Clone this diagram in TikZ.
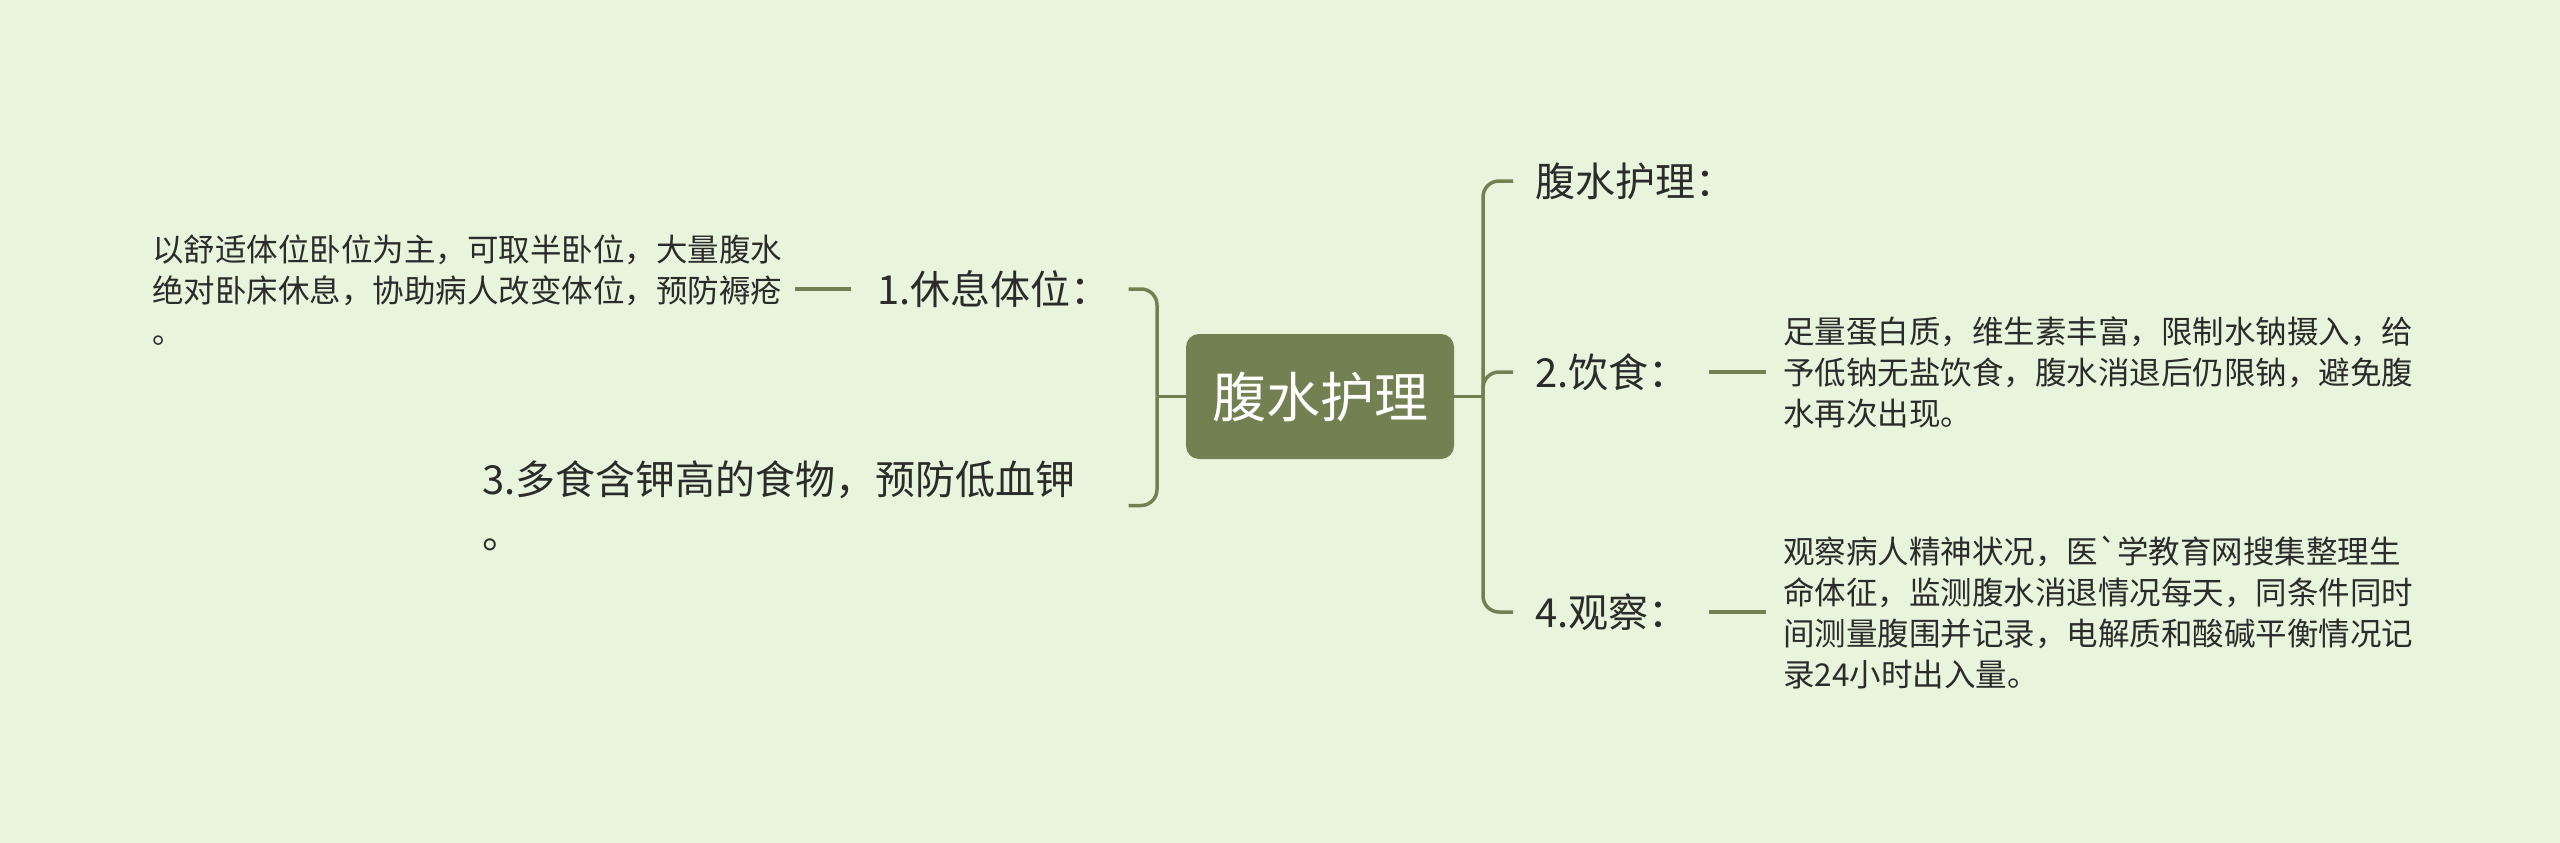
\documentclass[tikz,border=0pt]{standalone}
\usepackage{fontspec}
\newfontfamily\cjk{Noto Sans CJK SC}
\definecolor{bg}{HTML}{E8F5DC}
\definecolor{olive}{HTML}{738152}
\definecolor{txt}{HTML}{2B2B2B}
\begin{document}
\begin{tikzpicture}[x=1pt,y=-1pt,
  conn/.style={draw=olive, line width=3.5pt, rounded corners=16pt},
  lvlone/.style={anchor=west, inner sep=0pt, text=txt, font=\cjk\fontsize{40}{54}\selectfont, align=left},
  detail/.style={anchor=west, inner sep=0pt, text=txt, font=\cjk\fontsize{31.5}{41}\selectfont, align=left},
  rootbox/.style={fill=olive, rounded corners=13pt, minimum width=268pt, minimum height=125pt, text=white, font=\cjk\fontsize{54}{60}\selectfont, inner sep=0pt}]
\fill[bg] (0,0) rectangle (2560,843);
\useasboundingbox (0,0) rectangle (2560,843);

\node[rootbox] (root) at (1320,396.5) {腹水护理};

\node[lvlone] (r1) at (1535,181) {腹水护理：};
\node[lvlone] (r2) at (1535,372) {2.饮食：};
\node[lvlone] (r4) at (1535,612) {4.观察：};
\node[detail] (d2) at (1783,372) {足量蛋白质，维生素丰富，限制水钠摄入，给\\予低钠无盐饮食，腹水消退后仍限钠，避免腹\\水再次出现。};
\node[detail] (d4) at (1783,613) {观察病人精神状况，医`学教育网搜集整理生\\命体征，监测腹水消退情况每天，同条件同时\\间测量腹围并记录，电解质和酸碱平衡情况记\\录24小时出入量。};

\node[lvlone] (n1) at (877,289) {1.休息体位：};
\node[detail] (d1) at (152,290) {以舒适体位卧位为主，可取半卧位，大量腹水\\绝对卧床休息，协助病人改变体位，预防褥疮\\。};
\node[lvlone] (n3) at (482,505.5) {3.多食含钾高的食物，预防低血钾\\。};

\coordinate (rj) at (1483,396.5);
\coordinate (lj) at (1157,396.5);

\draw[conn] (root.east) -- (rj);
\draw[conn] (rj) |- ([xshift=-22pt]r1.west);
\draw[conn] (rj) |- ([xshift=-22pt]r2.west);
\draw[conn] (rj) |- ([xshift=-22pt]r4.west);

\draw[conn] (root.west) -- (lj);
\draw[conn] (lj) |- ([xshift=18pt]n1.east);
\draw[conn] (lj) |- ([xshift=53pt]n3.east);

\draw[conn] ([xshift=20pt]r2.east) -- ([xshift=-17pt]r2.east -| d2.west);
\draw[conn] ([xshift=20pt]r4.east) -- ([xshift=-17pt]r4.east -| d4.west);
\draw[conn] ([xshift=13pt]n1.west -| d1.east) -- ([xshift=-26pt]n1.west);
\end{tikzpicture}
\end{document}
